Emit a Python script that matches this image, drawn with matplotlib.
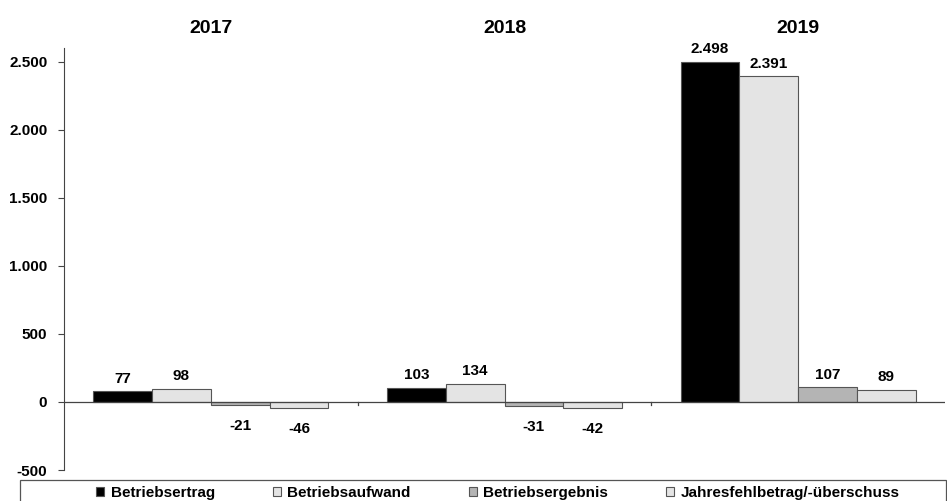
import matplotlib as mpl
mpl.use("Agg")
mpl.rcParams.update({
    "font.family": "sans-serif",
    "font.sans-serif": ["Liberation Sans", "Arial", "DejaVu Sans"],
    "font.weight": "bold",
})
import matplotlib.pyplot as plt
from matplotlib.patches import Rectangle
import numpy as np

years = ["2017", "2018", "2019"]
series = ["Betriebsertrag", "Betriebsaufwand", "Betriebsergebnis",
          "Jahresfehlbetrag/-überschuss"]
values = [
    [77, 103, 2498],
    [98, 134, 2391],
    [-21, -31, 107],
    [-46, -42, 89],
]
colors = ["#000000", "#e4e4e4", "#b4b4b4", "#e4e4e4"]
yticks = [-500, 0, 500, 1000, 1500, 2000, 2500]


def de(v):
    return f"{v:,.0f}".replace(",", ".")


fig = plt.figure(figsize=(9.47, 5.01), dpi=100)
ax = fig.add_axes([64 / 947, 31 / 501, 1 - 64 / 947 - 2 / 947, 453 / 501 - 31 / 501])

x = np.arange(len(years))
w = 0.2
handles = []
for i, (name, vals, c) in enumerate(zip(series, values, colors)):
    pos = x + (i - 1.5) * w
    b = ax.bar(pos, vals, width=w, color=c, edgecolor="#555555", linewidth=0.8,
               label=name, zorder=2)
    handles.append(b)
    for px, v in zip(pos, vals):
        if v >= 0:
            ax.annotate(de(v), (px, v), xytext=(0, 4), textcoords="offset points",
                        ha="center", va="bottom", fontsize=11, fontweight="bold")
        else:
            ax.annotate(de(v), (px, v), xytext=(0, -10), textcoords="offset points",
                        ha="center", va="top", fontsize=11, fontweight="bold")

ax.set_xlim(-0.5, 2.5)
ax.set_ylim(-500, 2600)
ax.set_yticks(yticks)
ax.set_yticklabels([de(t) for t in yticks], fontsize=11, fontweight="bold")
for s in ["top", "right", "bottom"]:
    ax.spines[s].set_visible(False)
ax.spines["left"].set_color("#444444")
ax.spines["left"].set_bounds(-500, 2600)
ax.tick_params(axis="y", direction="out", length=4, color="#444444", pad=8)
ax.set_xticks([])
ax.axhline(0, color="#444444", lw=0.9, zorder=3)
for bx in [0.5, 1.5]:
    ax.plot([bx, bx], [0, -25], color="#444444", lw=0.9, clip_on=False)

for xi, yr in zip(x, years):
    ax.text(xi, 1.026, yr, transform=ax.get_xaxis_transform(), ha="center",
            va="bottom", fontsize=14, fontweight="bold")

# legend box along the bottom edge
fig.patches.append(Rectangle((20 / 947, -0.02), 926 / 947, 21 / 501 + 0.02,
                             transform=fig.transFigure, fill=False,
                             edgecolor="#555555", linewidth=0.9))
leg = fig.legend(handles=handles, labels=series, loc="center left",
                 bbox_to_anchor=(96 / 947, 8 / 501), ncol=4, fontsize=11,
                 frameon=False, handlelength=0.55, handleheight=0.55,
                 handletextpad=0.4, columnspacing=3.8, borderpad=0,
                 borderaxespad=0)
for t in leg.get_texts():
    t.set_fontweight("bold")

fig.savefig("out.png", dpi=100)
